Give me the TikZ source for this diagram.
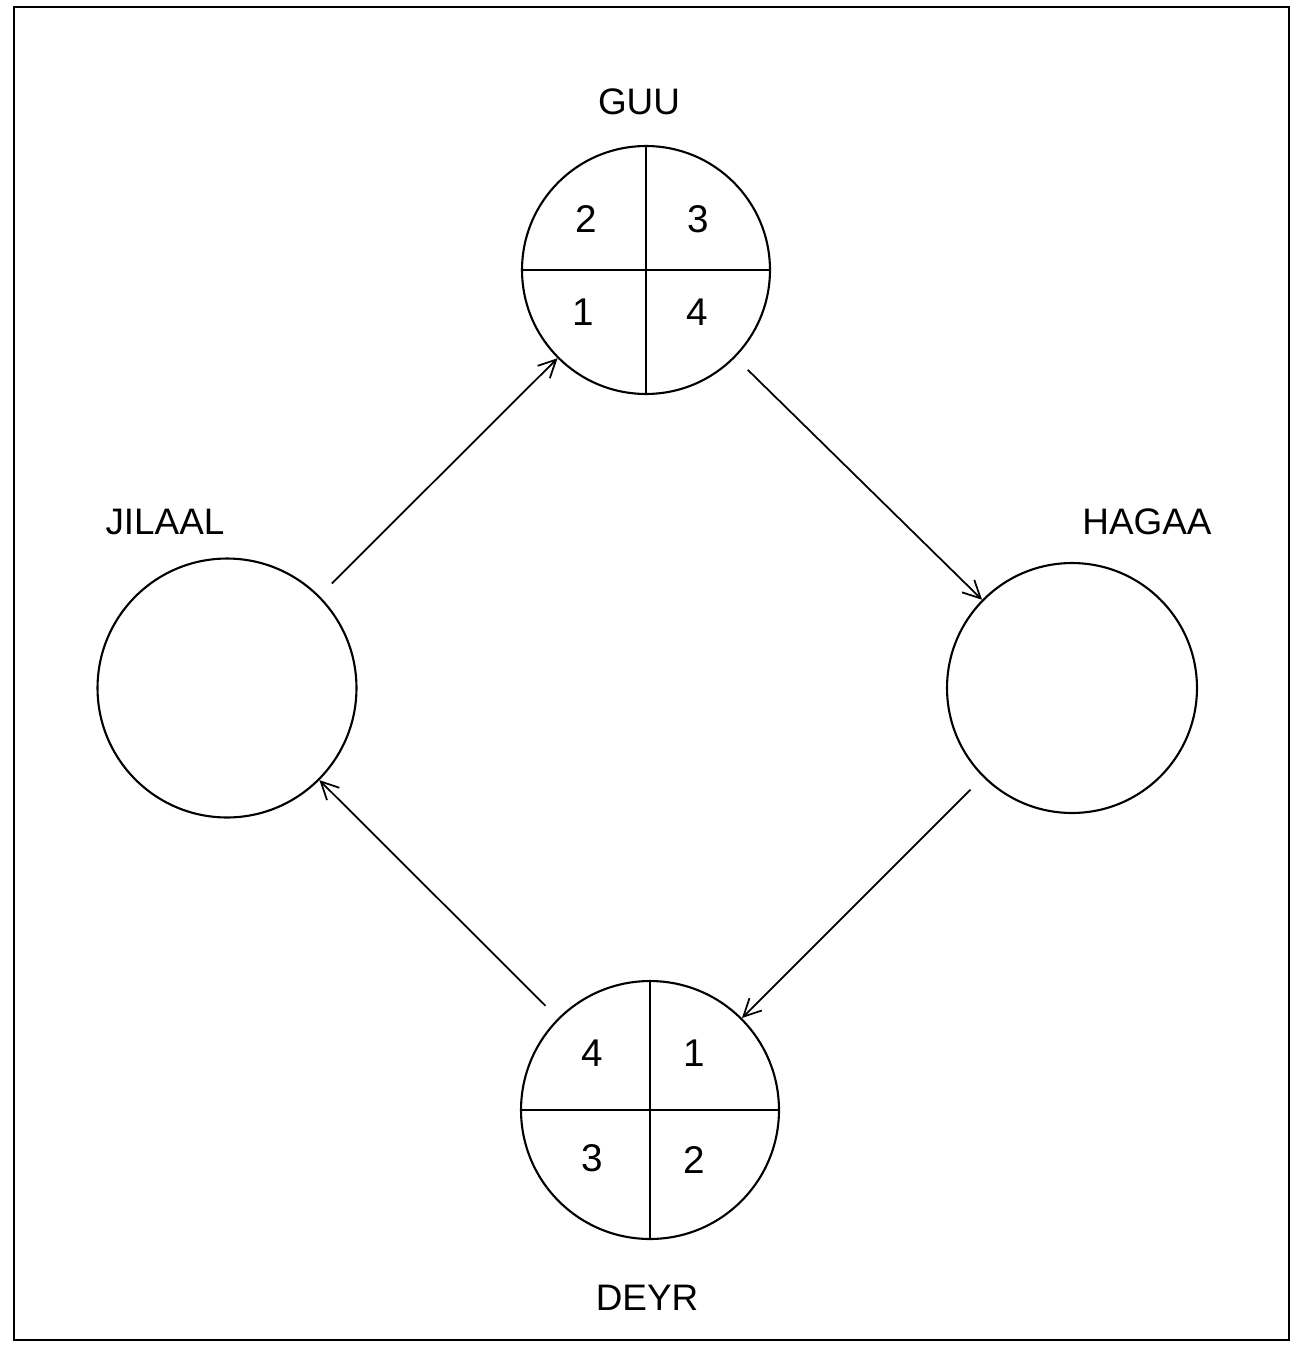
\documentclass[tikz,border=0pt]{standalone}
\usepackage{fontspec}
\setmainfont{Liberation Sans}
\usetikzlibrary{arrows.meta}
\tikzset{
  season/.style={circle, draw, line width=1.2pt, inner sep=0pt},
  seasonlabel/.style={font=\fontsize{21}{25}\selectfont},
  num/.style={font=\fontsize{22}{26}\selectfont},
  flow/.style={-{Straight Barb[length=3.5mm, width=3.5mm]}, line width=1pt, shorten <=10pt}
}
\begin{document}
\begin{tikzpicture}[x=0.02cm,y=-0.02cm]
\useasboundingbox (0,0) rectangle (1304,1345);
\draw[line width=1.5pt] (14,7) rectangle (1289,1340);
% seasons
\node[season, minimum size=4.96cm] (guu) at (646,270) {};
\node[season, minimum size=5.18cm] (jilaal) at (227,688) {};
\node[season, minimum size=5.0cm] (hagaa) at (1072,688) {};
\node[season, minimum size=5.16cm] (deyr) at (650,1110) {};
\node[seasonlabel] (guulab) at (639,102) {GUU};
\node[seasonlabel] (jilaallab) at (165,522) {JILAAL};
\node[seasonlabel] (hagaalab) at (1147,522) {HAGAA};
\node[seasonlabel] (deyrlab) at (647,1298) {DEYR};
% quarters
\draw[line width=1.2pt] (guu.north) -- (guu.south);
\draw[line width=1.2pt] (guu.west) -- (guu.east);
\draw[line width=1.2pt] (deyr.north) -- (deyr.south);
\draw[line width=1.2pt] (deyr.west) -- (deyr.east);
\node[num] (g2) at (586,219) {2};
\node[num] (g3) at (698,219) {3};
\node[num] (g1) at (583,312) {1};
\node[num] (g4) at (697,312) {4};
\node[num] (d4) at (592,1053) {4};
\node[num] (d1) at (694,1053) {1};
\node[num] (d3) at (592,1158) {3};
\node[num] (d2) at (694,1160) {2};
% cycle
\draw[flow] (jilaal) -- (guu);
\draw[flow] (guu) -- (hagaa);
\draw[flow] (hagaa) -- (deyr);
\draw[flow] (deyr) -- (jilaal);
\end{tikzpicture}
\end{document}
